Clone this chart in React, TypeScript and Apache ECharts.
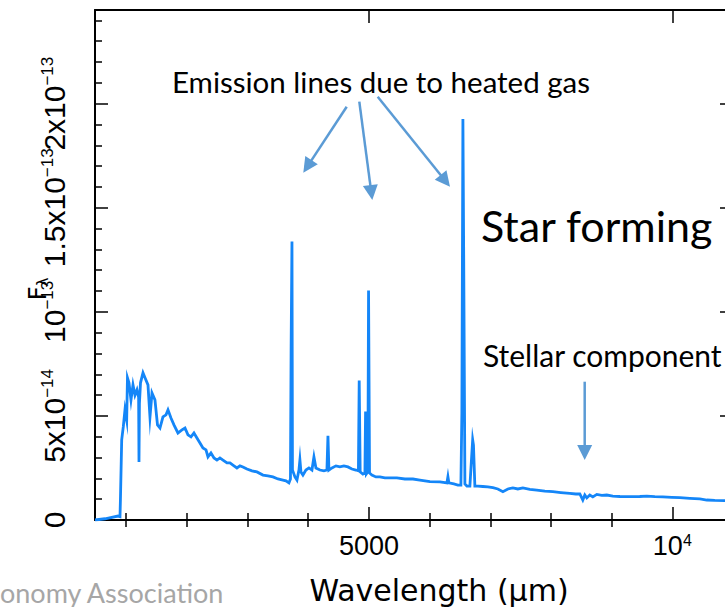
import React, { useEffect, useRef } from "react";
import * as echarts from "echarts";

// Spectrum, wavelength in Angstrom (axis titled as in source), flux in units of 1e-14
const wavelength = [
  486, 651, 865, 898, 905, 926, 952, 980, 1008, 1021, 1046, 1079, 1112, 1145, 1178, 1205, 1211, 1218, 1236, 1277,
  1310, 1359, 1392, 1425, 1474, 1516, 1557, 1606, 1656, 1689, 1738, 1787, 1853, 1919, 1969, 2018, 2068, 2117, 2166, 2216,
  2265, 2315, 2348, 2397, 2447, 2496, 2545, 2595, 2661, 2710, 2776, 2825, 2875, 2924, 2990, 3073, 3155, 3254, 3336, 3418,
  3501, 3583, 3633, 3682, 3707, 3718, 3723, 3732, 3740, 3748, 3781, 3814, 3847, 3863, 3880, 3913, 3962, 4012, 4061, 4094,
  4127, 4193, 4259, 4308, 4325, 4341, 4391, 4457, 4522, 4588, 4654, 4720, 4786, 4827, 4840, 4856, 4901, 4934, 4945, 4958,
  4983, 4994, 5010, 5049, 5115, 5181, 5263, 5346, 5461, 5593, 5725, 5840, 6005, 6170, 6285, 6302, 6318, 6400, 6466, 6516,
  6532, 6549, 6562, 6582, 6615, 6664, 6710, 6723, 6746, 6796, 6878, 6960, 7043, 7125, 7208, 7290, 7372, 7455, 7537, 7652,
  7767, 7899, 8031, 8163, 8311, 8410, 8476, 8525, 8558, 8591, 8640, 8690, 8756, 8838, 8920, 9019, 9135, 9300, 9464, 9580,
  9712, 9844, 9992, 10124, 10289, 10453, 10568, 10700, 10865, 10995,
];
const flux = [
  0.0, 0.06, 0.19, 0.16, 0.96, 3.85, 4.47, 5.29, 4.8, 6.83, 6.59, 5.77, 6.49, 6.0, 6.25, 5.9, 2.79, 5.6, 6.59, 7.07,
  6.83, 6.49, 4.95, 6.1, 5.77, 4.57, 4.42, 4.95, 5.05, 5.29, 4.9, 4.57, 4.18, 4.33, 4.42, 4.09, 3.99, 4.18, 3.94, 3.7,
  3.46, 3.37, 3.03, 3.22, 2.98, 2.88, 2.98, 2.88, 2.74, 2.74, 2.6, 2.5, 2.6, 2.55, 2.45, 2.36, 2.31, 2.16, 2.12, 2.07,
  1.97, 1.92, 1.88, 1.78, 1.97, 8.32, 8.32, 13.38, 2.4, 2.4, 2.07, 1.92, 2.4, 2.88, 2.31, 2.16, 2.4, 2.5, 2.4, 3.03,
  2.5, 2.4, 2.36, 2.4, 4.04, 2.4, 2.5, 2.6, 2.55, 2.6, 2.55, 2.45, 2.4, 2.36, 6.7, 2.31, 2.21, 2.26, 5.21, 2.21,
  2.31, 11.02, 2.26, 2.16, 2.07, 2.07, 2.02, 2.02, 2.02, 1.97, 1.97, 1.92, 1.84, 1.83, 1.78, 2.08, 1.78, 1.73, 1.68, 1.68,
  5.14, 19.26, 12.66, 1.73, 1.63, 1.63, 3.85, 3.6, 1.63, 1.63, 1.61, 1.59, 1.55, 1.49, 1.36, 1.49, 1.54, 1.49, 1.54, 1.47,
  1.44, 1.39, 1.36, 1.32, 1.28, 1.25, 1.25, 0.96, 1.2, 1.06, 1.2, 1.11, 1.23, 1.18, 1.2, 1.15, 1.13, 1.12, 1.13, 1.15,
  1.12, 1.11, 1.09, 1.07, 1.04, 1.01, 0.96, 0.94, 0.93, 0.91,
];

const X_MIN = 486;
const X_MAX = 11000;
const Y_MIN = 0;
const Y_MAX = 24.5;

const xMajorTicks = [5000, 10000];
const xMinorTicks = [1000, 2000, 3000, 4000, 6000, 7000, 8000, 9000];
const xTickLabels = ["5000", "10{s|4}"];
const yMajorTicks = [0, 5, 10, 15, 20];
const yMinorTicks = [1, 2, 3, 4, 6, 7, 8, 9, 11, 12, 13, 14, 16, 17, 18, 19, 21, 22, 23, 24];
const yTickLabels = ["0", "5x10{s|−14}", "10{s|−13}", "1.5x10{s|−13}", "2x10{s|−13}"];
// labels split over two axes so that overlapping neighbours are both drawn
const yLabelsEven = [0, 10, 20];
const yLabelsOdd = [5, 15];

const xAxisTitle = "Wavelength (μm)";
const yAxisTitle = "F{sub|λ}";
const emissionText = "Emission lines due to heated gas";
const starText = "Star forming";
const stellarText = "Stellar component";
const footerText = "onomy Association";

const TICK_FONT = "'Liberation Sans Narrow', 'Liberation Sans', sans-serif";
const ARROW = "#5B9BD5";

function arrow(x1: number, y1: number, x2: number, y2: number) {
  const dx = x2 - x1;
  const dy = y2 - y1;
  const len = Math.sqrt(dx * dx + dy * dy);
  const ux = dx / len;
  const uy = dy / len;
  const L = 15;
  const W = 7.5;
  const bx = x2 - ux * L;
  const by = y2 - uy * L;
  return [
    {
      type: "line",
      shape: { x1, y1, x2: bx + ux * 2, y2: by + uy * 2 },
      style: { stroke: ARROW, lineWidth: 2.5 },
      silent: true,
    },
    {
      type: "polygon",
      shape: {
        points: [
          [x2, y2],
          [bx - uy * W, by + ux * W],
          [bx + uy * W, by - ux * W],
        ],
      },
      style: { fill: ARROW },
      silent: true,
    },
  ];
}

const supRich = (size: number) => ({
  s: { fontSize: size, fontFamily: TICK_FONT, color: "#000", verticalAlign: "top", lineHeight: size },
});

function App() {
  const ref = useRef<HTMLDivElement>(null);

  useEffect(() => {
    if (!ref.current) return;
    const chart = echarts.init(ref.current, null, { renderer: "svg" });
    const data = wavelength.map((w, i) => [w, flux[i]]);

    const baseX = {
      type: "value",
      min: X_MIN,
      max: X_MAX,
      splitLine: { show: false },
      axisLine: { show: true, onZero: false, lineStyle: { color: "#000", width: 2 } },
    };
    const baseY = {
      type: "value",
      min: Y_MIN,
      max: Y_MAX,
      interval: 5,
      splitLine: { show: false },
      axisLine: { show: true, onZero: false, lineStyle: { color: "#000", width: 2 } },
    };
    const yLabel = (values: number[]) => ({
      show: true,
      customValues: values,
      hideOverlap: false,
      rotate: 90,
      margin: 26,
      color: "#000",
      fontFamily: TICK_FONT,
      fontSize: 30,
      lineHeight: 30,
      formatter: (v: number) => yTickLabels[yMajorTicks.indexOf(v)] ?? "",
      rich: supRich(17),
    });

    const option = {
      animation: false,
      backgroundColor: "#fff",
      grid: {
        left: 95,
        top: 10,
        width: 638,
        height: 510,
        containLabel: false,
        outerBoundsMode: "none",
      },
      xAxis: [
        {
          ...baseX,
          position: "bottom",
          axisTick: { show: true, inside: true, length: 13, customValues: xMajorTicks, lineStyle: { color: "#000", width: 1.5 } },
          axisLabel: {
            show: true,
            customValues: xMajorTicks,
            hideOverlap: false,
            margin: 12,
            color: "#000",
            fontFamily: TICK_FONT,
            fontSize: 27,
            lineHeight: 28,
            formatter: (v: number) => xTickLabels[xMajorTicks.indexOf(v)] ?? "",
            rich: supRich(16),
          },
        },
        {
          ...baseX,
          position: "bottom",
          axisLine: { show: false },
          axisTick: { show: true, inside: true, length: 7, customValues: xMinorTicks, lineStyle: { color: "#000", width: 1.5 } },
          axisLabel: { show: false },
        },
        {
          ...baseX,
          position: "top",
          axisTick: { show: true, inside: true, length: 13, customValues: xMajorTicks, lineStyle: { color: "#000", width: 1.5 } },
          axisLabel: { show: false },
        },
        {
          ...baseX,
          position: "top",
          axisLine: { show: false },
          axisTick: { show: true, inside: true, length: 7, customValues: xMinorTicks, lineStyle: { color: "#000", width: 1.5 } },
          axisLabel: { show: false },
        },
      ],
      yAxis: [
        {
          ...baseY,
          position: "left",
          axisTick: { show: true, inside: true, length: 13, customValues: yMajorTicks, lineStyle: { color: "#000", width: 1.5 } },
          axisLabel: yLabel(yLabelsEven),
        },
        {
          ...baseY,
          position: "left",
          axisLine: { show: false },
          axisTick: { show: true, inside: true, length: 7, customValues: yMinorTicks, lineStyle: { color: "#000", width: 1.5 } },
          axisLabel: yLabel(yLabelsOdd),
        },
        {
          ...baseY,
          position: "right",
          axisTick: { show: true, inside: true, length: 13, customValues: yMajorTicks, lineStyle: { color: "#000", width: 1.5 } },
          axisLabel: { show: false },
        },
        {
          ...baseY,
          position: "right",
          axisLine: { show: false },
          axisTick: { show: true, inside: true, length: 7, customValues: yMinorTicks, lineStyle: { color: "#000", width: 1.5 } },
          axisLabel: { show: false },
        },
      ],
      series: [
        {
          type: "line",
          xAxisIndex: 0,
          yAxisIndex: 0,
          data,
          showSymbol: false,
          symbol: "none",
          clip: true,
          lineStyle: { color: "#1486F8", width: 2.8, join: "miter", miterLimit: 20 },
          itemStyle: { color: "#1486F8" },
        },
      ],
      graphic: [
        {
          type: "text",
          x: 38,
          y: 289,
          rotation: Math.PI / 2,
          style: {
            text: yAxisTitle,
            fill: "#000",
            font: "24px 'DejaVu Sans', sans-serif",
            align: "center",
            verticalAlign: "middle",
            rich: {
              sub: { fontSize: 15, fontFamily: "'DejaVu Sans', sans-serif", verticalAlign: "bottom", lineHeight: 12 },
            },
          },
          silent: true,
        },
        {
          type: "text",
          x: 439,
          y: 590,
          style: { text: xAxisTitle, fill: "#000", font: "30px 'DejaVu Sans', sans-serif", align: "center", verticalAlign: "middle" },
          silent: true,
        },
        {
          type: "text",
          x: 172,
          y: 81,
          style: { text: emissionText, fill: "#000", font: "29.5px Lato, 'Open Sans', sans-serif", align: "left", verticalAlign: "middle" },
          silent: true,
        },
        {
          type: "text",
          x: 481,
          y: 225,
          style: { text: starText, fill: "#000", font: "43px Lato, 'Open Sans', sans-serif", align: "left", verticalAlign: "middle" },
          silent: true,
        },
        {
          type: "text",
          x: 483,
          y: 355,
          style: { text: stellarText, fill: "#000", font: "30px Lato, 'Open Sans', sans-serif", align: "left", verticalAlign: "middle" },
          silent: true,
        },
        {
          type: "text",
          x: 0,
          y: 592,
          style: { text: footerText, fill: "#A6A6A6", font: "27px Lato, 'Open Sans', sans-serif", align: "left", verticalAlign: "middle" },
          silent: true,
        },
        ...arrow(346.7, 106.7, 303.3, 172.7),
        ...arrow(359.3, 101.7, 372.3, 200),
        ...arrow(377.7, 96.7, 450, 186.7),
        ...arrow(584.7, 381.7, 584.7, 460),
      ],
    };

    chart.setOption(option as any);
    return () => chart.dispose();
  }, []);

  return (
    <div
      ref={ref}
      style={{ position: "absolute", left: 0, top: 0, width: 725, height: 607, background: "#fff" }}
    />
  );
}

export default App;
